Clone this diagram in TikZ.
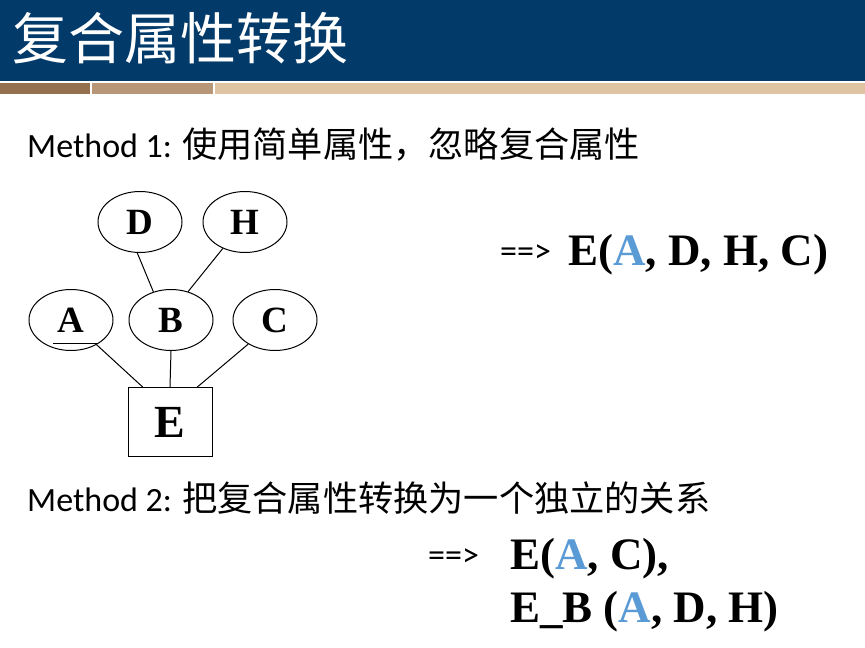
\documentclass[tikz,border=0pt]{standalone}
\usepackage{fontspec}
\setmainfont{Carlito}
\newfontfamily\cjk{Noto Sans CJK SC}
\newfontfamily\tnr{Liberation Serif}
\usetikzlibrary{shapes.geometric}

\definecolor{hdrblue}{RGB}{2,58,105}
\definecolor{stripeA}{RGB}{149,112,78}
\definecolor{stripeB}{RGB}{184,151,120}
\definecolor{stripeC}{RGB}{222,196,162}
\definecolor{keyblue}{RGB}{91,155,213}

\tikzset{
    attr/.style={ellipse, draw, line width=1pt, minimum width=84pt, minimum height=61pt,
        inner sep=0pt, font=\tnr\bfseries\fontsize{37}{37}\selectfont},
    entity/.style={rectangle, draw, line width=1pt, minimum width=84pt, minimum height=69pt,
        inner sep=0pt, font=\tnr\bfseries\fontsize{46}{46}\selectfont},
    txt/.style={anchor=base west, inner sep=0pt, font=\fontsize{34}{34}\selectfont},
    rel/.style={anchor=base west, inner sep=0pt, font=\tnr\bfseries\fontsize{45}{45}\selectfont}
}

\begin{document}
\begin{tikzpicture}[x=1pt, y=-1pt]
        \useasboundingbox (0, 0) rectangle (865, 648);

        % header
        \fill[hdrblue] (0, 0) rectangle (865, 81);
        \fill[stripeA] (0, 83) rectangle (90, 94);
        \fill[stripeB] (92, 83) rectangle (213, 94);
        \fill[stripeC] (215, 83) rectangle (865, 94);
        \node[anchor=base west, inner sep=0pt, text=white,
            font=\cjk\fontsize{56}{56}\selectfont] (title) at (12, 59) {复合属性转换};

        % method 1
        \node[txt] (m1) at (27, 157) {Method 1: {\cjk\fontsize{35.2}{35}\selectfont 使用简单属性，忽略复合属性}};

        \node[attr] (D) at (140, 222) {D};
        \node[attr] (H) at (245, 222) {H};
        \node[attr] (A) at (71, 320) {A};
        \node[attr] (B) at (171, 320) {B};
        \node[attr] (C) at (275, 320) {C};
        \node[entity] (E) at (170, 422) {E};

        \draw[line width=1pt] ([shift={(-18, 23)}]A.center) -- ++(45, 0);

        \draw[line width=1pt] (D.265) -- (B.122);
        \draw[line width=1pt] (H.230) -- (B.59);
        \draw[line width=1pt] (A.316) -- (E.128);
        \draw[line width=1pt] (B.south) -- (E.north);
        \draw[line width=1pt] (C.222) -- (E.52);

        \node[txt] (arr1) at (500, 262) {==>};
        \node[rel] (r1) at (568, 265) {E(\textcolor{keyblue}{A}, D, H, C)};

        % method 2
        \node[txt] (m2) at (27, 511) {Method 2: {\cjk\fontsize{35.2}{35}\selectfont 把复合属性转换为一个独立的关系}};

        \node[txt] (arr2) at (428, 566) {==>};
        \node[rel] (r2) at (510, 569) {E(\textcolor{keyblue}{A}, C),};
        \node[rel] (r3) at (510, 622) {E\_B (\textcolor{keyblue}{A}, D, H)};
\end{tikzpicture}
\end{document}
